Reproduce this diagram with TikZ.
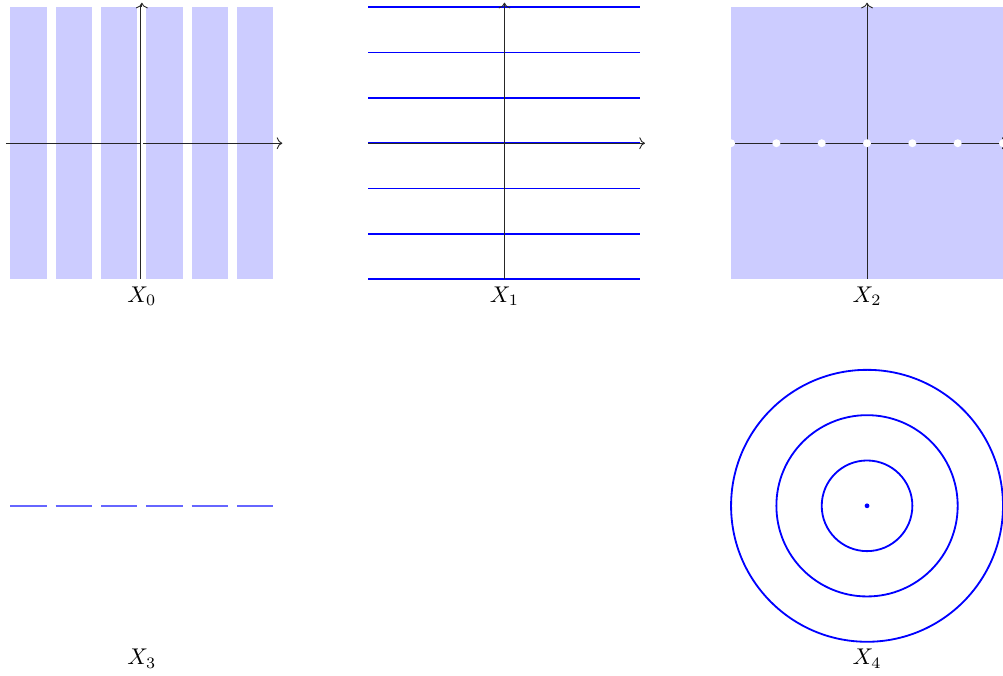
\documentclass[tikz,border=0pt]{standalone}
\usetikzlibrary{arrows.meta,positioning}
\tikzset{
  strip/.style={fill=blue!20, draw=none},
  axis/.style={->, black!85},
  curve/.style={draw=blue, thick},
  seg/.style={draw=blue!60, line width=0.8pt},
  hole/.style={fill=white},
  lbl/.style={below, inner sep=3pt}
}

\begin{document}
\begin{tikzpicture}[scale=0.7]
  \useasboundingbox (-3.13,3.16) rectangle (19,-11.74);
  % X_0 : open strips and the axis
  \foreach \k in {-3,...,2}
    \fill[strip] (\k+0.1,-3) rectangle (\k+0.9,3);
  \draw[axis] (-3,0) -- (3.1,0);
  \draw[black!85, double] (0,-3) -- (0,3.04);
  \draw[axis] (0,3) -- (0,3.1);
  \node[lbl] (x0) at (0,-3) {$X_0$};
  % X_1 : horizontal lines
  \foreach \y in {-3,...,3}
    \draw[curve] (5,\y) -- (11,\y);
  \draw[axis] (5,0) -- (11.1,0);
  \draw[axis] (8,-3) -- (8,3.1);
  \node[lbl] (x1) at (8,-3) {$X_1$};
  % X_2 : plane minus integer points
  \fill[strip] (13,-3) rectangle (19,3);
  \draw[axis] (13,0) -- (19.1,0);
  \draw[axis] (16,-3) -- (16,3.1);
  \foreach \k in {-3,...,3}
    \fill[hole] (16+\k,0) circle (2.5pt);
  \node[lbl] (x2) at (16,-3) {$X_2$};
  % X_3 : open segments
  \foreach \k in {-3,...,2}
    \draw[seg] (\k+0.1,-8) -- (\k+0.9,-8);
  \node[lbl] (x3) at (0,-11) {$X_3$};
  % X_4 : circles and centre
  \foreach \r in {1,2,3}
    \draw[curve] (16,-8) circle (\r);
  \fill[blue] (16,-8) circle (1.5pt);
  \node[lbl] (x4) at (16,-11) {$X_4$};
\end{tikzpicture}
\end{document}
